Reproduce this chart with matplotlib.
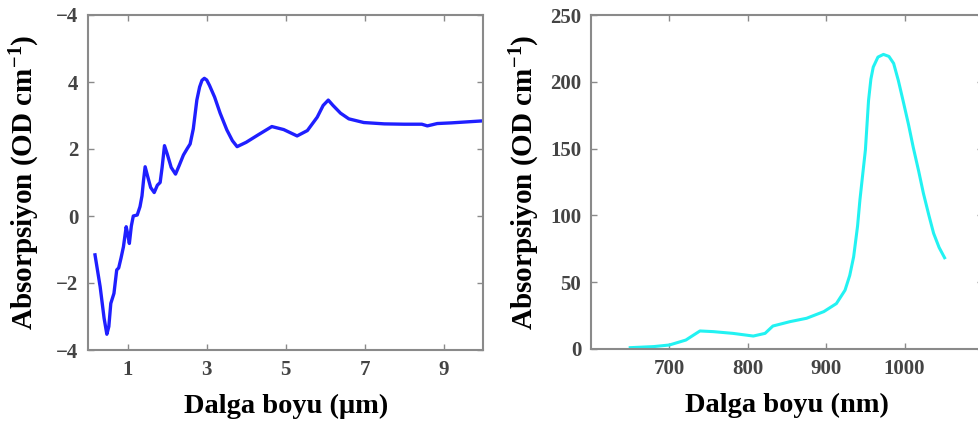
import matplotlib
matplotlib.use("Agg")
import matplotlib.pyplot as plt

# left panel: absorption vs wavelength (um)
wl_um = [0.17, 0.30, 0.40, 0.47, 0.52, 0.57, 0.65, 0.72, 0.77, 0.83, 0.89, 0.96, 1.00, 1.04,
         1.09, 1.14, 1.24, 1.31, 1.36, 1.40, 1.44, 1.50, 1.58, 1.67, 1.75, 1.82, 1.87, 1.93,
         2.00, 2.10, 2.21, 2.30, 2.41, 2.50, 2.58, 2.66, 2.75, 2.82, 2.88, 2.94, 3.00, 3.07,
         3.20, 3.34, 3.51, 3.65, 3.77, 4.00, 4.30, 4.65, 4.95, 5.29, 5.55, 5.80, 5.95, 6.08,
         6.20, 6.39, 6.60, 6.98, 7.50, 8.00, 8.45, 8.59, 8.70, 8.84, 9.20, 9.60, 10.0]
abs_um = [-1.16, -2.11, -3.05, -3.53, -3.30, -2.61, -2.31, -1.61, -1.55, -1.25, -0.92, -0.32,
          -0.55, -0.82, -0.30, 0.00, 0.03, 0.28, 0.60, 1.07, 1.47, 1.20, 0.85, 0.70, 0.92, 1.00,
          1.45, 2.10, 1.85, 1.45, 1.25, 1.50, 1.82, 2.00, 2.15, 2.60, 3.46, 3.85, 4.05, 4.11,
          4.06, 3.90, 3.55, 3.07, 2.57, 2.25, 2.07, 2.20, 2.42, 2.67, 2.58, 2.39, 2.55, 2.95,
          3.30, 3.46, 3.30, 3.07, 2.90, 2.79, 2.75, 2.74, 2.74, 2.69, 2.72, 2.76, 2.78, 2.81,
          2.84]
yticks_um = [-4, -2, 0, 2, 4, 6]
ylabels_um = ["\u22124", "\u22122", "0", "2", "4", "\u22124"]
xticks_um = [1, 3, 5, 7, 9]

# right panel: absorption vs wavelength (nm)
wl_nm = [650, 680, 700, 721, 731, 739, 756, 781, 807, 822, 832, 854, 875, 897, 913, 924,
         930, 935, 940, 943, 947, 950, 954, 957, 960, 966, 973, 980, 986, 992, 998, 1005,
         1011, 1018, 1024, 1031, 1037, 1044, 1051]
abs_nm = [1.0, 1.8, 3.0, 6.7, 10.5, 13.5, 13.0, 11.7, 9.7, 11.7, 17.2, 20.5, 23.0, 28.0,
          34.0, 44.0, 55.0, 69.0, 92.0, 111.5, 133.0, 149.0, 186.0, 202.0, 211.0, 218.5,
          220.5, 219.0, 213.8, 201.0, 186.0, 168.0, 151.0, 133.0, 116.5, 100.0, 86.6,
          76.0, 68.3]
yticks_nm = [0, 50, 100, 150, 200, 250]
xticks_nm = [700, 800, 900, 1000]

plt.rcParams['font.family'] = ['Liberation Serif', 'DejaVu Serif']
plt.rcParams['mathtext.fontset'] = 'custom'
plt.rcParams['mathtext.rm'] = 'Liberation Serif:bold'
plt.rcParams['mathtext.default'] = 'rm'

fig = plt.figure(figsize=(9.79, 4.22), dpi=100)
W, H = 979.0, 422.0
ax1 = fig.add_axes([88.3 / W, (H - 350) / H, 394.7 / W, 335 / H])
ax2 = fig.add_axes([591 / W, (H - 349) / H, 392 / W, 334 / H])

ax1.plot(wl_um, abs_um, color='#1f1fff', lw=2.4)
ax1.set_xlim(0, 10)
ax1.set_ylim(-4, 6)
ax1.set_xticks(xticks_um)
ax1.set_yticks(yticks_um)
ax1.set_yticklabels(ylabels_um)
ax1.set_xlabel("Dalga boyu (\u03bcm)", fontsize=20.5, fontweight='bold', labelpad=10)
ax1.set_ylabel("Absorpsiyon (OD cm$^{-1}$)", fontsize=21, fontweight='bold', labelpad=10)

ax2.plot(wl_nm, abs_nm, color='#22f2f2', lw=2.2)
ax2.set_xlim(600, 1100)
ax2.set_ylim(0, 250)
ax2.set_xticks(xticks_nm)
ax2.set_yticks(yticks_nm)
ax2.set_xlabel("Dalga boyu (nm)", fontsize=20.5, fontweight='bold', labelpad=10)
ax2.set_ylabel("Absorpsiyon (OD cm$^{-1}$)", fontsize=21, fontweight='bold', labelpad=6)

for ax in (ax1, ax2):
    for s in ax.spines.values():
        s.set_color('#8a8a8a')
        s.set_linewidth(1.5)
    ax.tick_params(direction='in', length=4, width=1, color='#8a8a8a',
                   top=True, right=True, labelsize=15, labelcolor='#444444', pad=7)
    for t in ax.get_xticklabels() + ax.get_yticklabels():
        t.set_fontweight('bold')

fig.savefig("out.png", dpi=100)
